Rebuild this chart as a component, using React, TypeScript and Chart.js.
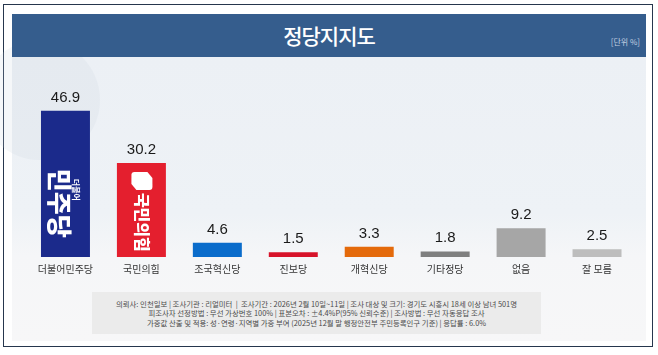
import React, { useEffect, useRef } from "react";
import { Chart, registerables } from "chart.js";

Chart.register(...registerables);

const title = "정당지지도";
const unitLabel = "[단위 %]";
const categories = ["더불어민주당", "국민의힘", "조국혁신당", "진보당", "개혁신당", "기타정당", "없음", "잘 모름"];
const values = [46.9, 30.2, 4.6, 1.5, 3.3, 1.8, 9.2, 2.5];
const barColors = ["#1B2A8B", "#E41F2E", "#0A6CCB", "#D7132A", "#E46A0B", "#7F7F7F", "#A6A6A6", "#BDBDBD"];
const yMax = 60;
const footerLines = [
  "의뢰사: 인천일보 | 조사기관 : 리얼미터  |  조사기간 : 2026년 2월 10일~11일 | 조사 대상 및 크기: 경기도 시흥시 18세 이상 남녀 501명",
  "피조사자 선정방법 : 무선 가상번호 100% | 표본오차 : ±4.4%P(95% 신뢰수준) | 조사방법 : 무선 자동응답 조사",
  "가중값 산출 및 적용: 성·연령·지역별 가중 부여 (2025년 12월 말 행정안전부 주민등록인구 기준) | 응답률 : 6.0%",
];

const valueLabelPlugin = {
  id: "valueLabels",
  afterDatasetsDraw(chart: any) {
    const ctx = chart.ctx;
    const meta = chart.getDatasetMeta(0);
    ctx.save();
    ctx.font = "15px 'Liberation Sans', Arial, sans-serif";
    ctx.fillStyle = "#1a1a1a";
    ctx.textAlign = "center";
    ctx.textBaseline = "alphabetic";
    meta.data.forEach((bar: any, i: number) => {
      ctx.fillText(values[i].toFixed(1), bar.x, bar.y - 9);
    });
    ctx.restore();
  },
};

const logoPlugin = {
  id: "partyLogos",
  afterDatasetsDraw(chart: any) {
    const ctx = chart.ctx;
    const meta = chart.getDatasetMeta(0);
    const b1 = meta.data[0];
    const b2 = meta.data[1];
    ctx.save();
    ctx.fillStyle = "#ffffff";
    // bar 1: rotated 민주당
    if (b1) {
      ctx.save();
      ctx.translate(b1.x - 6, b1.y + 58);
      ctx.rotate(Math.PI / 2);
      ctx.font = "900 25px 'Noto Sans CJK KR', sans-serif";
      ctx.textAlign = "left";
      ctx.textBaseline = "middle";
      ctx.fillText("민주당", 0, 0);
      ctx.restore();
      ctx.save();
      ctx.translate(b1.x + 11, b1.y + 68);
      ctx.rotate(Math.PI / 2);
      ctx.font = "bold 8px 'Noto Sans CJK KR', sans-serif";
      ctx.textAlign = "left";
      ctx.textBaseline = "middle";
      ctx.fillText("더불어", 0, 0);
      ctx.restore();
    }
    if (b2) {
      const cx = b2.x;
      const top = b2.y + 9;
      ctx.beginPath();
      ctx.moveTo(cx - 10, top + 3);
      ctx.quadraticCurveTo(cx - 10, top, cx - 7, top);
      ctx.lineTo(cx + 6, top);
      ctx.lineTo(cx + 11, top + 6);
      ctx.lineTo(cx + 11, top + 15);
      ctx.quadraticCurveTo(cx + 11, top + 18, cx + 8, top + 18);
      ctx.lineTo(cx - 5, top + 18);
      ctx.lineTo(cx - 10, top + 12);
      ctx.closePath();
      ctx.fill();
      ctx.save();
      ctx.translate(cx + 1, b2.y + 30);
      ctx.rotate(Math.PI / 2);
      ctx.font = "900 16px 'Noto Sans CJK KR', sans-serif";
      ctx.textAlign = "left";
      ctx.textBaseline = "middle";
      ctx.fillText("국민의힘", 0, 0);
      ctx.restore();
    }
    ctx.restore();
  },
};

export default function App() {
  const canvasRef = useRef<HTMLCanvasElement>(null);

  useEffect(() => {
    document.body.style.margin = "0";
    const chart = new Chart(canvasRef.current as HTMLCanvasElement, {
      type: "bar",
      data: {
        labels: categories,
        datasets: [
          {
            data: values,
            backgroundColor: barColors,
            borderWidth: 0,
            barPercentage: 0.645,
            categoryPercentage: 1,
          },
        ],
      },
      options: {
        animation: false,
        responsive: false,
        maintainAspectRatio: false,
        layout: { padding: { left: 17.5, right: 13, top: 13, bottom: 6 } },
        plugins: { legend: { display: false }, tooltip: { enabled: false }, title: { display: false } },
        scales: {
          x: {
            grid: { display: false, drawTicks: false },
            border: { display: false },
            ticks: {
              padding: 6,
              color: "#333333",
              font: { size: 10, family: "'Noto Sans CJK KR', sans-serif" },
              maxRotation: 0,
              autoSkip: false,
            },
          },
          y: { display: false, min: 0, max: yMax },
        },
      },
      plugins: [valueLabelPlugin, logoPlugin],
    });
    return () => chart.destroy();
  }, []);

  return (
    <div style={{ position: "fixed", left: 0, top: 0, width: 658, height: 355, background: "#ffffff", overflow: "hidden" }}>
      <div
        style={{
          position: "absolute",
          left: 3,
          top: 4,
          width: 648,
          height: 341,
          border: "1.5px solid #26364d",
          background: "#ffffff",
        }}
      />
      <div
        style={{
          position: "absolute",
          left: 12,
          top: 57,
          width: 634,
          height: 284,
          background: "linear-gradient(180deg, #ECF0F5 0%, #EEF2F6 55%, #F5F6F8 70%, #F7F7F8 100%)",
        }}
      />
      <div
        style={{
          position: "absolute",
          left: -20,
          top: 40,
          width: 120,
          height: 120,
          borderRadius: "50%",
          background: "rgba(200,208,220,0.18)",
        }}
      />
      <div
        style={{
          position: "absolute",
          left: 12,
          top: 14,
          width: 634,
          height: 43,
          background: "#355D8D",
        }}
      />
      <div
        style={{
          position: "absolute",
          left: 12,
          top: 14,
          width: 634,
          height: 43,
          lineHeight: "43px",
          textAlign: "center",
          color: "#ffffff",
          fontFamily: "'Noto Sans CJK KR', sans-serif",
          fontSize: 21,
          fontWeight: 500,
          letterSpacing: -1,
        }}
      >
        {title}
      </div>
      <div
        style={{
          position: "absolute",
          left: 590,
          top: 37,
          width: 50,
          textAlign: "right",
          color: "#C3D1E2",
          fontFamily: "'Noto Sans CJK KR', sans-serif",
          fontSize: 8,
          lineHeight: "10px",
        }}
      >
        {unitLabel}
      </div>
      <canvas
        ref={canvasRef}
        width={638}
        height={230}
        style={{ position: "absolute", left: 10, top: 57, width: 638, height: 230 }}
      />
      <div
        style={{
          position: "absolute",
          left: 92,
          top: 292,
          width: 449,
          height: 42,
          background: "#EBEBEB",
        }}
      />
      <div
        style={{
          position: "absolute",
          left: 72,
          top: 299,
          width: 489,
          textAlign: "center",
          color: "#4a4a4a",
          fontFamily: "'Noto Sans CJK KR', sans-serif",
          fontSize: 7.4,
          lineHeight: "9.3px",
          whiteSpace: "pre",
        }}
      >
        {footerLines.map((l, i) => (
          <div key={i}>{l}</div>
        ))}
      </div>
    </div>
  );
}
